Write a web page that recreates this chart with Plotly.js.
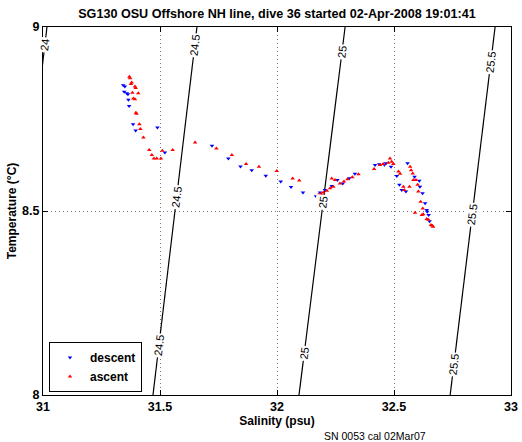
<!DOCTYPE html>
<html>
<head>
<meta charset="utf-8">
<script src="https://cdn.plot.ly/plotly-3.0.1.min.js"></script>
<style>
html,body{margin:0;padding:0;background:#fff;}
#chart{width:522px;height:442px;}
</style>
</head>
<body>
<div id="chart"></div>
<script>
// Descent (down-cast) salinity / temperature
const descentSalinity = [31.343,31.350,31.347,31.358,31.363,31.365,31.368,31.385,31.396,31.489,31.521,31.722,31.792,31.844,31.892,31.952,32.016,32.060,32.111,32.167,32.184,32.205,32.234,32.258,32.281,32.309,32.333,32.419,32.437,32.459,32.466,32.487,32.512,32.523,32.533,32.551,32.558,32.588,32.608,32.611,32.622,32.633,32.640,32.642,32.648,32.652];
const descentTemp     = [8.842,8.838,8.824,8.820,8.817,8.802,8.785,8.736,8.719,8.727,8.659,8.677,8.643,8.621,8.611,8.596,8.580,8.565,8.550,8.540,8.550,8.557,8.568,8.584,8.575,8.589,8.601,8.625,8.627,8.626,8.630,8.620,8.595,8.571,8.557,8.553,8.630,8.593,8.582,8.566,8.548,8.521,8.503,8.498,8.489,8.472];

// Ascent (up-cast) salinity / temperature
const ascentSalinity = [31.369,31.372,31.379,31.376,31.393,31.396,31.382,31.407,31.386,31.393,31.397,31.400,31.412,31.416,31.429,31.454,31.465,31.474,31.486,31.504,31.510,31.554,31.650,31.741,31.807,31.868,31.923,31.999,32.067,32.095,32.177,32.188,32.198,32.213,32.227,32.241,32.234,32.248,32.269,32.286,32.301,32.322,32.348,32.415,32.440,32.454,32.476,32.483,32.490,32.497,32.519,32.526,32.540,32.544,32.566,32.569,32.573,32.580,32.583,32.594,32.601,32.604,32.614,32.623,32.590,32.619,32.625,32.640,32.647,32.658,32.664,32.667];
const ascentTemp     = [8.865,8.861,8.849,8.845,8.838,8.834,8.821,8.820,8.806,8.804,8.767,8.764,8.736,8.723,8.700,8.666,8.652,8.643,8.643,8.643,8.664,8.666,8.686,8.670,8.652,8.628,8.620,8.609,8.588,8.583,8.544,8.546,8.550,8.555,8.562,8.566,8.588,8.584,8.575,8.580,8.586,8.592,8.600,8.614,8.625,8.628,8.631,8.643,8.634,8.628,8.607,8.601,8.566,8.557,8.566,8.620,8.611,8.602,8.584,8.584,8.571,8.553,8.525,8.507,8.495,8.489,8.491,8.478,8.476,8.462,8.460,8.457];

// Sigma-theta isopycnals: salinity where each crosses T = 8 and T = 9
const sigmaLevels   = [24, 24.5, 25, 25.5];
const sigmaLabels   = ["24", "24.5", "25", "25.5"];
const sigmaSalAtT8  = [30.830, 31.470, 32.094, 32.740];
const sigmaSalAtT9  = [31.017, 31.658, 32.291, 32.932];
// temperatures where contour labels sit on each isopycnal
const sigmaLabelTemps = [[8.951], [8.951, 8.538, 8.136], [8.932, 8.524, 8.114], [8.905, 8.489, 8.084]];

// Axis ticks
const xTickVals = [31, 31.5, 32, 32.5, 33];
const xTickText = ["31", "31.5", "32", "32.5", "33"];
const yTickVals = [8, 8.5, 9];
const yTickText = ["8", "8.5", "9"];

const FONT = "Liberation Sans, Arial, Helvetica, sans-serif";
const W = 522, H = 442;
const margin = {l: 43, r: 11, t: 27, b: 47};
const xRange = [31, 33], yRange = [8, 9];
const plotW = W - margin.l - margin.r, plotH = H - margin.t - margin.b;

const traces = [];
const annotations = [];

sigmaLevels.forEach((lev, i) => {
  traces.push({
    x: [sigmaSalAtT8[i], sigmaSalAtT9[i]],
    y: [8, 9],
    mode: "lines",
    line: {color: "black", width: 1.2},
    showlegend: false,
    hoverinfo: "skip"
  });
  const dS = sigmaSalAtT9[i] - sigmaSalAtT8[i];
  const dxPx = dS * plotW / (xRange[1] - xRange[0]);
  const dyPx = plotH / (yRange[1] - yRange[0]);
  const ang = -Math.atan2(dyPx, dxPx) * 180 / Math.PI;
  sigmaLabelTemps[i].forEach(t => {
    const s = sigmaSalAtT8[i] + dS * (t - 8);
    annotations.push({
      x: s, y: t, xref: "x", yref: "y",
      text: sigmaLabels[i], showarrow: false,
      textangle: ang,
      bgcolor: "white", borderpad: 1,
      font: {family: FONT, size: 11, color: "black"}
    });
  });
});

traces.push({
  x: descentSalinity, y: descentTemp,
  mode: "markers", name: "descent",
  marker: {symbol: "triangle-down", color: "#0000ff", size: 4, line: {width: 0}}
});
traces.push({
  x: ascentSalinity, y: ascentTemp,
  mode: "markers", name: "ascent",
  marker: {symbol: "triangle-up", color: "#ff0000", size: 4, line: {width: 0}}
});

annotations.push({
  xref: "paper", yref: "paper",
  x: (375 - margin.l) / plotW, y: -(436 - (H - margin.b)) / plotH,
  xanchor: "center", yanchor: "middle",
  text: "SN 0053 cal 02Mar07", showarrow: false,
  font: {family: FONT, size: 10.5, color: "black"}
});

const axisCommon = {
  showline: true, linecolor: "black", linewidth: 1, mirror: "ticks",
  ticks: "inside", ticklen: 5, tickcolor: "black",
  showgrid: true, gridcolor: "#777", griddash: "1px,3px", gridwidth: 1,
  zeroline: false, automargin: false,
  tickfont: {family: FONT, size: 12.5, color: "black", weight: "bold"}
};

const layout = {
  width: W, height: H,
  margin: margin,
  paper_bgcolor: "white", plot_bgcolor: "white",
  title: {
    text: "<b>SG130 OSU Offshore NH line, dive 36 started 02-Apr-2008 19:01:41</b>",
    font: {family: FONT, size: 12.6, color: "black"},
    xref: "paper", x: 0.5, xanchor: "center",
    yref: "container", y: 1 - 14 / H, yanchor: "middle"
  },
  xaxis: Object.assign({}, axisCommon, {
    range: xRange, tickmode: "array", tickvals: xTickVals, ticktext: xTickText,
    title: {text: "<b>Salinity (psu)</b>", font: {family: FONT, size: 12, color: "black"}, standoff: 2}
  }),
  yaxis: Object.assign({}, axisCommon, {
    range: yRange, tickmode: "array", tickvals: yTickVals, ticktext: yTickText,
    title: {text: "<b>Temperature (°C)</b>", font: {family: FONT, size: 12, color: "black"}, standoff: 2}
  }),
  legend: {
    x: 6 / plotW, y: 3 / plotH, xanchor: "left", yanchor: "bottom",
    bgcolor: "white", bordercolor: "black", borderwidth: 1,
    font: {family: FONT, size: 12, color: "black", weight: "bold"},
    itemsizing: "trace", tracegroupgap: 0
  },
  annotations: annotations,
  showlegend: true
};

Plotly.newPlot("chart", traces, layout, {displayModeBar: false, staticPlot: true});
</script>
</body>
</html>
